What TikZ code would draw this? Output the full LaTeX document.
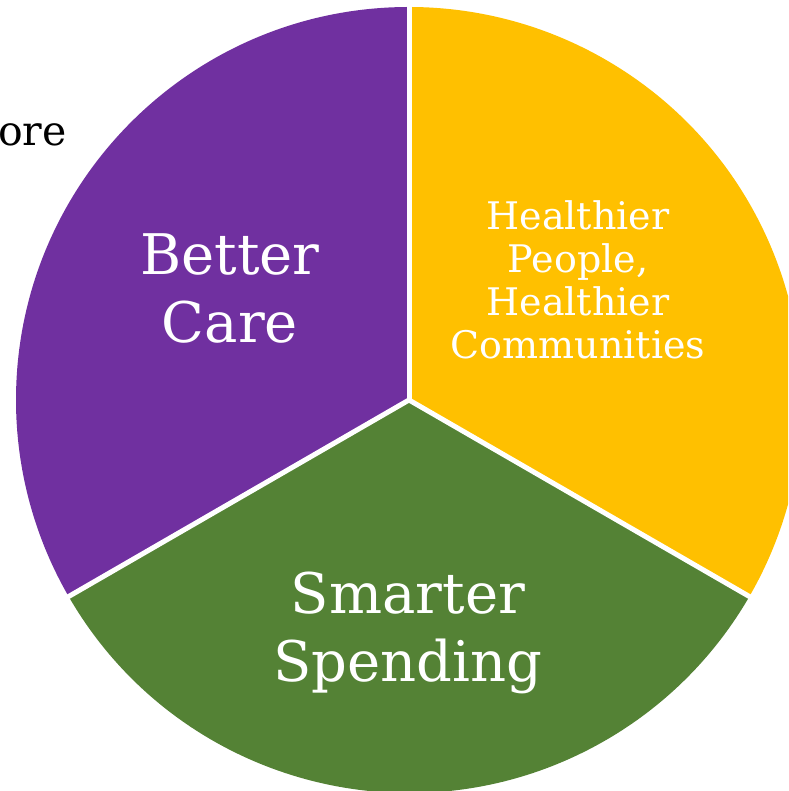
\documentclass[tikz,border=0pt]{standalone}
\usepackage{fontspec}
\setmainfont{DejaVu Serif}
\definecolor{carepurple}{HTML}{7030A0}
\definecolor{peoplegold}{HTML}{FFC000}
\definecolor{spendgreen}{HTML}{548235}
\tikzset{
  slicelabel/.style={text=white,align=center,inner sep=0pt},
  divider/.style={white,line width=2.5pt}
}
\begin{document}
\begin{tikzpicture}[x=0.5pt,y=0.5pt]
      \useasboundingbox (0,0) rectangle (788,791);
      \clip (0,0) rectangle (788,791);

      \coordinate (ctr) at (409,391);
      \foreach \a/\col in {90/carepurple,210/spendgreen,330/peoplegold}
        \fill[\col] (ctr) -- ++(\a:393) arc[start angle=\a,delta angle=120,radius=393] -- cycle;

      \foreach \a in {90,210,330}
        \draw[divider] (ctr) -- ++(\a:400);

      \node[slicelabel,font=\fontsize{28}{34}\selectfont] (better) at (230,503) {Better\\Care};
      \node[slicelabel,font=\fontsize{19}{21.5}\selectfont] (healthier) at (578,511) {Healthier\\People,\\Healthier\\Communities};
      \node[slicelabel,font=\fontsize{28}{34}\selectfont] (smarter) at (408,158) {Smarter\\Spending};
      \node[anchor=base east,inner sep=0pt,font=\fontsize{20.5}{24}\selectfont] (more) at (67,645) {ore};
    \end{tikzpicture}
\end{document}
